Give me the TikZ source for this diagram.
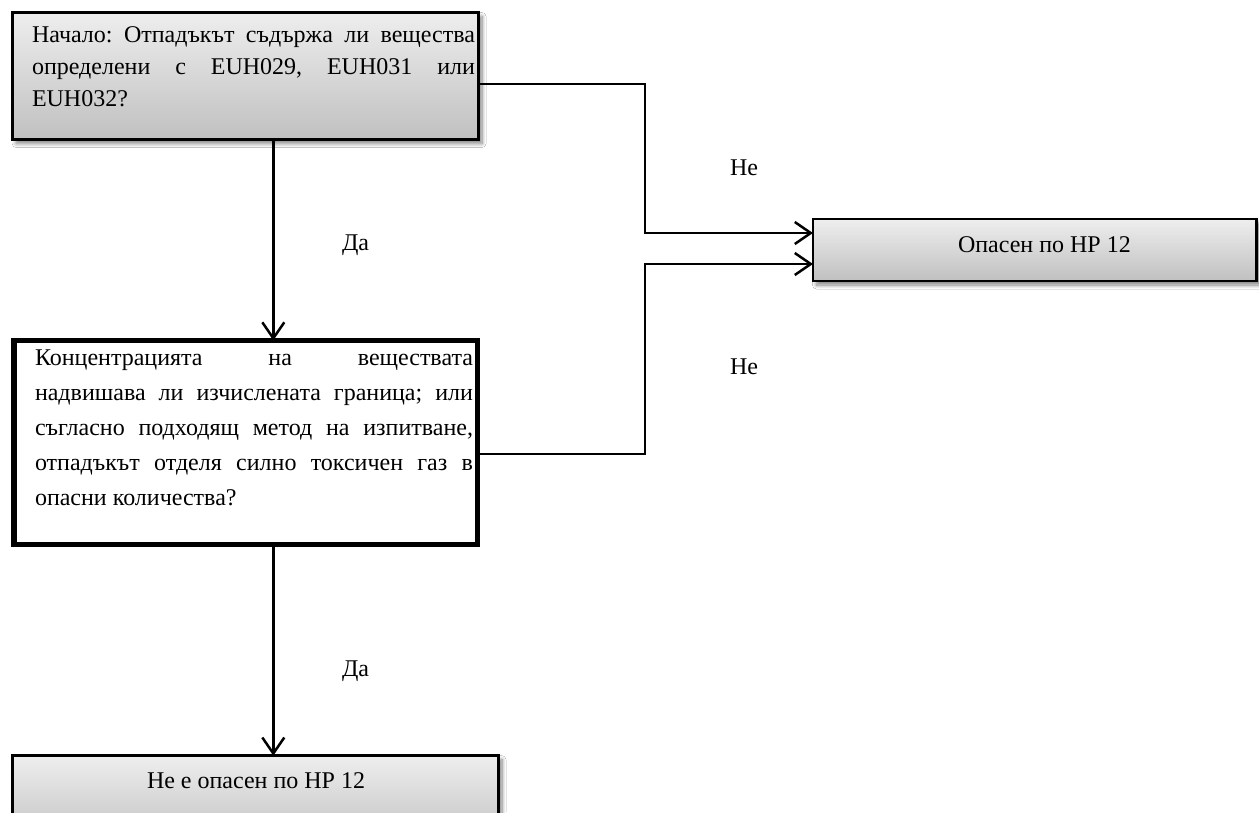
\documentclass[tikz,border=0pt]{standalone}
\usepackage{fontspec}
\setmainfont{Liberation Serif}
\newfontfamily\flowfont{Liberation Serif}
\usetikzlibrary{arrows.meta,shadows.blur,calc}

\definecolor{boxtop}{RGB}{238,238,238}
\definecolor{boxbottom}{RGB}{192,192,192}

\tikzset{
  greybox/.style={draw=black, line width=2.5pt, top color=boxtop, bottom color=boxbottom,
    inner sep=0pt, outer sep=0pt, anchor=north west,
    blur shadow={shadow xshift=3.5pt, shadow yshift=-4pt, shadow blur steps=8,
      shadow blur radius=4pt, shadow opacity=50}},
  heavybox/.style={draw=black, line width=5.6pt, fill=white,
    inner sep=0pt, outer sep=0pt, anchor=north west},
  boxtext/.style={anchor=base west, inner sep=0pt, outer sep=0pt,
    font=\flowfont\fontsize{24}{32}\selectfont},
  flowlabel/.style={anchor=base west, inner sep=0pt, outer sep=0pt,
    font=\flowfont\fontsize{24}{32}\selectfont},
  flow/.style={line width=2.5pt, -{Straight Barb[length=16pt,width=22pt]}},
}

\begin{document}
\frenchspacing
\begin{tikzpicture}[x=1pt, y=-1pt]
  \useasboundingbox (0,0) rectangle (1259,812);
  \fill[white] (0,0) rectangle (1259,812);
  \clip (0,0) rectangle (1259,812);

  % boxes
  \node[greybox, minimum width=465.8pt, minimum height=127pt] (q1) at (12.7,12.5) {};
  \node[heavybox, minimum width=463.8pt, minimum height=204pt] (q2) at (13.7,340.5) {};
  \node[greybox, minimum width=443.5pt, minimum height=62pt] (yes) at (813,219) {};
  \node[greybox, minimum width=485.8pt, minimum height=90pt] (no) at (12.7,755.7) {};

  % box texts (justified, one paragraph each)
  \node[boxtext] (q1text) at ($(q1.north west)+(19.3,29.5)$)
    {\parbox[t]{443pt}{\hyphenpenalty=10000 Начало: Отпадъкът съдържа ли вещества\linebreak
      определени с EUH029, EUH031 или\linebreak EUH032?}};
  \node[boxtext] (q2text) at ($(q2.north west)+(21.3,24.5)$)
    {\parbox[t]{438pt}{\fontsize{24}{35}\selectfont\hyphenpenalty=10000
      Концентрацията на веществата\linebreak
      надвишава ли изчислената граница; или\linebreak
      съгласно подходящ метод на изпитване,\linebreak
      отпадъкът отделя силно токсичен газ в\linebreak
      опасни количества?}};
  \node[boxtext] (yestext) at (958,252) {Опасен по HP 12};
  \node[boxtext] (notext) at (147,788) {Не е опасен по HP 12};

  % routing points
  \coordinate (vx) at (273.3,0);
  \coordinate (j1) at (645,84);
  \coordinate (j2) at (645,233);
  \coordinate (j3) at (645,454);
  \coordinate (j4) at (645,264);

  % connectors
  \draw[flow] (q1.south -| vx) -- (q2.north -| vx);
  \draw[flow] (q2.south -| vx) -- (no.north -| vx);
  \draw[flow] (q1.east |- j1) -- (j1) -- (j2) -- (yes.west |- j2);
  \draw[flow] (q2.east |- j3) -- (j3) -- (j4) -- (yes.west |- j4);

  % labels
  \node[flowlabel] (da1) at (342,250) {Да};
  \node[flowlabel] (da2) at (342,676) {Да};
  \node[flowlabel] (ne1) at (730,175) {Не};
  \node[flowlabel] (ne2) at (730,374) {Не};
\end{tikzpicture}
\end{document}
